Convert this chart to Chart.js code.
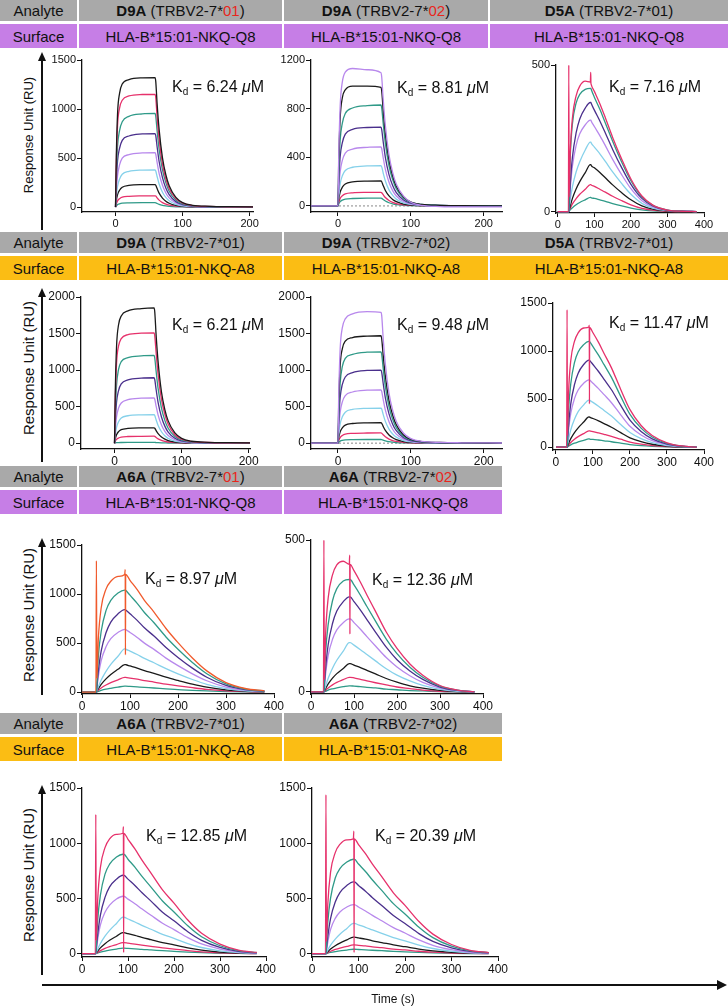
<!DOCTYPE html>
<html>
<head>
<meta charset="utf-8">
<script src="https://cdn.jsdelivr.net/npm/chart.js@4.4.1/dist/chart.umd.min.js"></script>
<style>
  body { margin: 0; background: #fff; font-family: 'Liberation Sans', Arial, sans-serif; }
  #fig { position: relative; width: 728px; height: 1008px; overflow: hidden; background: #fff; }
  .cell { position: absolute; display: flex; align-items: center; justify-content: center; font-size: 15px; color: #111; white-space: nowrap; }
  .gray { background: #a9a9a9; }
  .purple { background: #c67ee6; }
  .orange { background: #fbbd14; }
  .red { color: #e8261c; }
  .kd { position: absolute; font-size: 16px; color: #111; white-space: nowrap; transform: translateY(-50%); }
  .kd sub { font-size: 10px; vertical-align: -3px; }
  .ytitle { position: absolute; color: #111; white-space: nowrap; transform: translate(-50%, -50%) rotate(-90deg); }
  .bar { position: absolute; background: #111; }
  .head { position: absolute; width: 0; height: 0; }
  canvas { position: absolute; }
</style>
</head>
<body>
<div id="fig"></div>
<script>
// ---- tick labels / time points ----
const xTicksFast = [0, 100, 200];
const xTicksSlow = [0, 100, 200, 300, 400];
const tD9A01 = [0, 1, 3, 6, 10, 20, 40, 59, 60, 62, 65, 70, 75, 80, 90, 100, 115, 140, 170, 225];
const tD9A02 = [-37, 0, 1, 3, 6, 10, 20, 40, 59, 60, 62, 65, 70, 75, 80, 90, 100, 115, 140, 170, 225];
const tSlow = [0, 29, 30, 31, 34, 40, 50, 60, 75, 89, 90, 90.5, 91, 100, 115, 130, 150, 175, 200, 230, 260, 300, 340, 380];
const zeroLineX = [-37, 225];

// ---- colours ----
const cBlack = '#1a1a1a', cPink = '#e6316b', cTeal = '#2f9a88', cDark = '#4a2f8c';
const cLav = '#b888ec', cSky = '#86d1ea', cOrange = '#f05a2c';

// ---- row 1 : NKQ-Q8 surface ----
const yTicksR1P1 = [0, 500, 1000, 1500];
const r1p1 = [
  [0, 460, 950, 1160, 1255, 1300, 1318, 1320, 1280, 1056, 792, 502, 330, 218, 99, 46, 18, 8, 4, 1],
  [0, 400, 830, 1010, 1090, 1133, 1148, 1150, 1115, 920, 690, 437, 288, 190, 86, 40, 16, 7, 3, 1],
  [0, 300, 620, 780, 870, 925, 950, 955, 926, 780, 590, 380, 250, 162, 72, 33, 13, 6, 3, 1],
  [0, 225, 470, 600, 680, 725, 746, 750, 728, 615, 465, 300, 195, 128, 56, 26, 10, 4, 2, 0],
  [0, 150, 320, 430, 500, 535, 552, 555, 538, 455, 344, 222, 144, 94, 42, 19, 8, 3, 2, 0],
  [0, 95, 210, 285, 335, 365, 378, 380, 368, 312, 236, 152, 99, 65, 28, 13, 5, 2, 1, 0],
  [0, 58, 127, 172, 202, 221, 229, 230, 223, 189, 143, 92, 60, 39, 17, 8, 3, 1, 1, 0],
  [0, 29, 63, 86, 101, 110, 114, 115, 112, 94, 71, 46, 30, 20, 9, 4, 2, 1, 0, 0],
  [0, 11, 25, 34, 40, 43, 45, 45, 44, 37, 28, 18, 12, 8, 3, 2, 1, 0, 0, 0]
];
const r1p1Colors = [cBlack, cPink, cTeal, cDark, cLav, cSky, cBlack, cPink, cTeal];

const yTicksR1P2 = [0, 400, 800, 1200];
const r1p2 = [
  [0, 0, 400, 820, 1020, 1100, 1130, 1120, 1095, 1060, 880, 660, 420, 275, 180, 80, 30, 5, -5, -8, -8],
  [0, 0, 350, 720, 890, 955, 985, 985, 975, 945, 790, 595, 378, 248, 162, 72, 32, 12, 5, 2, 1],
  [0, 0, 260, 540, 680, 760, 805, 825, 830, 805, 680, 515, 330, 216, 141, 62, 29, 12, 5, 2, 1],
  [0, 0, 195, 405, 520, 590, 630, 645, 648, 628, 530, 400, 258, 168, 110, 49, 23, 9, 4, 2, 0],
  [0, 0, 130, 280, 375, 435, 467, 482, 485, 470, 398, 300, 194, 126, 82, 36, 17, 7, 3, 1, 0],
  [0, 0, 83, 182, 248, 291, 318, 329, 331, 321, 271, 205, 132, 86, 56, 25, 12, 5, 2, 1, 0],
  [0, 0, 51, 113, 154, 180, 197, 204, 205, 199, 168, 127, 82, 53, 35, 15, 7, 3, 1, 1, 0],
  [0, 0, 28, 62, 84, 99, 108, 111, 112, 109, 92, 69, 45, 29, 19, 8, 4, 2, 1, 0, 0],
  [0, 0, 16, 35, 48, 56, 61, 64, 64, 62, 52, 40, 26, 17, 11, 5, 2, 1, 0, 0, 0]
];
const r1p2Colors = [cLav, cBlack, cTeal, cDark, cLav, cSky, cBlack, cPink, cTeal];

const yTicksR1P3 = [0, 500];
const r1p3 = [
  [0, 0, 500, 50, 200, 320, 395, 428, 445, 442, 475, 440, 435, 410, 368, 320, 253, 178, 111, 53, 22, 5, 1, 0],
  [0, 0, 0, 40, 185, 300, 370, 400, 417, 420, 420, 420, 418, 390, 349, 302, 240, 168, 105, 50, 21, 5, 1, 0],
  [0, 0, 0, 22, 93, 186, 268, 316, 353, 372, 372, 372, 370, 346, 309, 268, 212, 149, 93, 45, 19, 4, 1, 0],
  [0, 0, 0, 19, 78, 156, 225, 265, 296, 312, 312, 312, 310, 290, 259, 225, 178, 125, 78, 37, 16, 4, 1, 0],
  [0, 0, 0, 10, 40, 85, 135, 170, 210, 237, 237, 237, 235, 220, 197, 171, 135, 95, 59, 28, 12, 3, 1, 0],
  [0, 0, 0, 5, 19, 45, 77, 102, 133, 160, 160, 160, 158, 149, 133, 115, 91, 64, 40, 19, 8, 2, 0, 0],
  [0, 0, 0, 3, 11, 26, 44, 59, 76, 92, 92, 92, 91, 86, 76, 66, 52, 37, 23, 11, 5, 1, 0, 0],
  [0, 0, 0, 1, 6, 13, 23, 31, 40, 48, 48, 48, 47, 45, 40, 35, 27, 19, 12, 6, 2, 1, 0, 0]
];
const slowColors = [cPink, cTeal, cDark, cLav, cSky, cBlack, cPink, cTeal];

// ---- row 2 : NKQ-A8 surface ----
const yTicksR2P1 = [0, 500, 1000, 1500, 2000];
const r2p1 = [
  [0, 650, 1320, 1620, 1740, 1810, 1840, 1850, 1795, 1480, 1110, 700, 460, 305, 140, 65, 26, 11, 6, 2],
  [0, 530, 1090, 1330, 1430, 1485, 1505, 1510, 1465, 1240, 940, 600, 395, 258, 115, 53, 21, 9, 5, 2],
  [0, 380, 790, 1010, 1115, 1170, 1195, 1200, 1165, 985, 745, 480, 312, 204, 90, 42, 17, 7, 4, 1],
  [0, 270, 560, 720, 810, 865, 890, 895, 868, 734, 555, 358, 233, 152, 67, 31, 13, 5, 3, 1],
  [0, 170, 360, 480, 550, 595, 615, 620, 601, 508, 384, 248, 161, 105, 47, 22, 9, 4, 2, 0],
  [0, 98, 215, 292, 344, 375, 388, 390, 378, 320, 242, 156, 101, 66, 29, 14, 5, 2, 1, 0],
  [0, 53, 115, 158, 185, 202, 209, 210, 204, 172, 130, 84, 55, 36, 16, 7, 3, 1, 1, 0],
  [0, 24, 52, 71, 84, 91, 94, 95, 92, 78, 59, 38, 25, 16, 7, 3, 1, 1, 0, 0],
  [0, 3, 6, 8, 9, 10, 10, 10, 10, 8, 6, 4, 3, 2, 1, 0, 0, 0, 0, 0]
];

const yTicksR2P2 = [0, 500, 1000, 1500, 2000];
const r2p2 = [
  [0, 0, 640, 1290, 1580, 1700, 1770, 1800, 1790, 1745, 1440, 1080, 685, 450, 297, 135, 63, 25, 10, 5, 2],
  [0, 0, 515, 1060, 1295, 1395, 1445, 1465, 1470, 1426, 1205, 915, 585, 385, 252, 112, 52, 21, 9, 4, 1],
  [0, 0, 400, 820, 1050, 1160, 1215, 1245, 1250, 1213, 1025, 775, 500, 325, 212, 94, 44, 18, 7, 4, 1],
  [0, 0, 300, 625, 805, 905, 965, 995, 1000, 970, 820, 620, 400, 260, 170, 75, 35, 14, 6, 3, 1],
  [0, 0, 200, 425, 565, 650, 700, 725, 730, 708, 599, 453, 292, 190, 124, 55, 26, 10, 4, 2, 0],
  [0, 0, 120, 265, 360, 424, 462, 477, 480, 466, 394, 298, 192, 125, 82, 36, 17, 7, 3, 1, 0],
  [0, 0, 70, 154, 210, 246, 269, 278, 280, 272, 230, 174, 112, 73, 48, 21, 10, 4, 2, 1, 0],
  [0, 0, 35, 77, 105, 123, 134, 139, 140, 136, 115, 87, 56, 36, 24, 10, 5, 2, 1, 0, 0],
  [0, 0, 13, 28, 38, 44, 48, 50, 50, 49, 41, 31, 20, 13, 8, 4, 2, 1, 0, 0, 0]
];

const yTicksR2P3 = [0, 500, 1000, 1500];
const r2p3 = [
  [0, 0, 1430, 120, 560, 900, 1100, 1190, 1240, 1250, 1270, 450, 1245, 1190, 1090, 975, 825, 600, 390, 225, 120, 45, 12, 0],
  [0, 0, 0, 90, 385, 660, 880, 990, 1067, 1100, 1100, 1100, 1098, 1045, 957, 858, 726, 528, 341, 198, 105, 39, 11, 0],
  [0, 0, 0, 55, 225, 450, 650, 770, 860, 905, 905, 905, 903, 860, 787, 706, 597, 434, 281, 163, 86, 32, 9, 0],
  [0, 0, 0, 42, 175, 350, 505, 595, 665, 700, 700, 700, 698, 665, 609, 546, 462, 336, 217, 126, 67, 25, 7, 0],
  [0, 0, 0, 20, 80, 180, 290, 370, 440, 490, 490, 490, 488, 466, 426, 382, 323, 235, 152, 88, 47, 17, 5, 0],
  [0, 0, 0, 9, 38, 88, 151, 201, 261, 314, 314, 314, 312, 298, 273, 245, 207, 151, 97, 57, 30, 11, 3, 0],
  [0, 0, 0, 5, 20, 48, 82, 109, 141, 170, 170, 170, 169, 162, 148, 133, 112, 82, 53, 31, 16, 6, 2, 0],
  [0, 0, 0, 3, 10, 24, 41, 54, 71, 85, 85, 85, 84, 81, 74, 66, 56, 41, 26, 15, 8, 3, 1, 0]
];

// ---- row 3 : A6A on NKQ-Q8 ----
const yTicksR3P1 = [0, 500, 1000, 1500];
const r3p1 = [
  [0, 0, 1340, 140, 540, 860, 1050, 1130, 1180, 1200, 1250, 380, 1200, 1140, 1044, 936, 816, 648, 504, 348, 216, 96, 36, 12],
  [0, 0, 0, 80, 360, 620, 830, 935, 1010, 1040, 1040, 1040, 1038, 988, 905, 811, 707, 562, 437, 302, 187, 83, 31, 10],
  [0, 0, 0, 50, 210, 420, 605, 714, 798, 840, 840, 840, 838, 798, 731, 655, 571, 454, 353, 244, 151, 67, 25, 8],
  [0, 0, 0, 38, 160, 320, 461, 544, 608, 640, 640, 640, 638, 608, 557, 499, 435, 346, 269, 186, 115, 51, 19, 6],
  [0, 0, 0, 13, 53, 123, 211, 282, 365, 440, 440, 440, 438, 418, 383, 343, 299, 238, 185, 128, 79, 35, 13, 4],
  [0, 0, 0, 8, 34, 78, 134, 179, 232, 280, 280, 280, 279, 266, 244, 218, 190, 151, 118, 81, 50, 22, 8, 3],
  [0, 0, 0, 5, 18, 42, 72, 96, 125, 150, 150, 150, 149, 143, 131, 117, 102, 81, 63, 44, 27, 12, 5, 2],
  [0, 0, 0, 2, 7, 17, 29, 38, 50, 60, 60, 60, 60, 57, 52, 47, 41, 32, 25, 17, 11, 5, 2, 1]
];
const r3p1Colors = [cOrange, cTeal, cDark, cLav, cSky, cBlack, cPink, cTeal];

const yTicksR3P2 = [0, 500];
const r3p2 = [
  [0, 0, 500, 40, 190, 310, 385, 418, 430, 420, 450, 190, 420, 399, 361, 319, 265, 197, 143, 92, 55, 21, 6, 0],
  [0, 0, 0, 30, 130, 222, 300, 340, 365, 370, 370, 370, 370, 352, 318, 281, 233, 174, 126, 81, 48, 19, 6, 0],
  [0, 0, 0, 19, 78, 156, 225, 266, 297, 313, 313, 313, 313, 297, 269, 238, 197, 147, 106, 69, 41, 16, 5, 0],
  [0, 0, 0, 14, 60, 120, 173, 204, 228, 240, 240, 240, 240, 228, 206, 182, 151, 113, 82, 53, 31, 12, 4, 0],
  [0, 0, 0, 5, 19, 45, 78, 104, 134, 162, 162, 162, 162, 154, 139, 123, 102, 76, 55, 36, 21, 8, 2, 0],
  [0, 0, 0, 3, 11, 26, 45, 60, 77, 93, 93, 93, 93, 88, 80, 71, 59, 44, 32, 20, 12, 5, 1, 0],
  [0, 0, 0, 1, 6, 13, 23, 31, 40, 48, 48, 48, 48, 46, 41, 36, 30, 23, 16, 11, 6, 2, 1, 0],
  [0, 0, 0, 1, 2, 6, 10, 13, 17, 20, 20, 20, 20, 19, 17, 15, 13, 9, 7, 4, 3, 1, 0, 0]
];

// ---- row 4 : A6A on NKQ-A8 ----
const yTicksR4 = [0, 500, 1000, 1500];
const r4p1 = [
  [0, 0, 1260, 120, 480, 780, 960, 1040, 1080, 1090, 1150, 10, 1090, 1036, 948, 850, 730, 578, 458, 305, 185, 87, 33, 11],
  [0, 0, 0, 65, 300, 530, 720, 810, 875, 900, 900, 900, 900, 855, 783, 702, 603, 477, 378, 252, 153, 72, 27, 9],
  [0, 0, 0, 40, 170, 350, 510, 605, 675, 710, 710, 710, 710, 675, 618, 554, 476, 376, 298, 199, 121, 57, 21, 7],
  [0, 0, 0, 30, 125, 260, 375, 440, 495, 520, 520, 520, 520, 494, 452, 406, 348, 276, 218, 146, 88, 42, 16, 5],
  [0, 0, 0, 10, 40, 92, 158, 211, 274, 330, 330, 330, 330, 314, 287, 257, 221, 175, 139, 92, 56, 26, 10, 3],
  [0, 0, 0, 6, 23, 53, 91, 122, 158, 190, 190, 190, 190, 181, 165, 148, 127, 101, 80, 53, 32, 15, 6, 2],
  [0, 0, 0, 3, 12, 28, 48, 64, 83, 100, 100, 100, 100, 95, 87, 78, 67, 53, 42, 28, 17, 8, 3, 1],
  [0, 0, 0, 2, 6, 14, 24, 32, 42, 50, 50, 50, 50, 48, 44, 39, 34, 27, 21, 14, 9, 4, 2, 1]
];
const r4p2 = [
  [0, 0, 1440, 110, 450, 740, 915, 990, 1030, 1040, 1110, 10, 1040, 988, 905, 811, 697, 551, 437, 291, 177, 83, 31, 10],
  [0, 0, 0, 60, 285, 505, 685, 770, 830, 855, 855, 855, 855, 812, 744, 667, 573, 453, 359, 239, 145, 68, 26, 9],
  [0, 0, 0, 36, 155, 320, 468, 553, 618, 650, 650, 650, 650, 618, 566, 507, 436, 345, 273, 182, 111, 52, 20, 7],
  [0, 0, 0, 25, 105, 220, 320, 378, 423, 445, 445, 445, 445, 423, 387, 347, 298, 236, 187, 125, 76, 36, 13, 4],
  [0, 0, 0, 8, 33, 77, 132, 176, 228, 275, 275, 275, 275, 261, 239, 215, 184, 146, 116, 77, 47, 22, 8, 3],
  [0, 0, 0, 5, 18, 42, 72, 96, 125, 150, 150, 150, 150, 143, 131, 117, 101, 80, 63, 42, 26, 12, 5, 2],
  [0, 0, 0, 2, 10, 22, 38, 51, 66, 80, 80, 80, 80, 76, 70, 62, 54, 42, 34, 22, 14, 6, 2, 1],
  [0, 0, 0, 1, 5, 11, 19, 26, 33, 40, 40, 40, 40, 38, 35, 31, 27, 21, 17, 11, 7, 3, 1, 0]
];

// ---- page helpers ----
const FONT = "'Liberation Sans', Arial, sans-serif";
Chart.defaults.font.family = FONT;
const fig = document.getElementById('fig');

function box(x, y, w, h, cls, html) {
  const d = document.createElement('div');
  d.className = cls;
  d.style.left = x + 'px';
  d.style.top = y + 'px';
  if (w != null) d.style.width = w + 'px';
  if (h != null) d.style.height = h + 'px';
  d.innerHTML = html;
  fig.appendChild(d);
  return d;
}

// header rows: grey "Analyte" strip and coloured "Surface" strip
function header(y, cols, analytes, surfCls, surface) {
  box(0, y, cols[0], 21, 'cell gray', 'Analyte');
  box(0, y + 24, cols[0], 24, 'cell ' + surfCls, 'Surface');
  analytes.forEach((html, i) => {
    const x0 = cols[i] + 2, x1 = cols[i + 1];
    box(x0, y, x1 - x0, 21, 'cell gray', html);
    box(x0, y + 24, x1 - x0, 24, 'cell ' + surfCls, surface);
  });
}

// vertical "Response Unit (RU)" arrow with its title
function yArrow(top, bottom, textY, size) {
  box(41, top + 7, 2, bottom - top - 7, 'bar', '');
  const h = box(38, top, null, null, 'head', '');
  h.style.borderLeft = '4px solid transparent';
  h.style.borderRight = '4px solid transparent';
  h.style.borderBottom = '9px solid #111';
  const t = box(28, textY, null, null, 'ytitle', 'Response Unit (RU)');
  t.style.fontSize = size + 'px';
}

function kd(x, y, value) {
  box(x, y, null, null, 'kd', 'K<sub>d</sub> = ' + value + ' <i>&mu;</i>M');
}

// one sensorgram panel; L,R,T,B is the plot box on the page
const YW = 40, XH = 22, PT = 8, PR = 14;
function panel(p) {
  const w = p.R - p.L + YW + PR, h = p.B - p.T + PT + XH;
  const c = document.createElement('canvas');
  c.width = w; c.height = h;
  c.style.left = (p.L - YW) + 'px';
  c.style.top = (p.T - PT) + 'px';
  c.style.width = w + 'px';
  c.style.height = h + 'px';
  fig.appendChild(c);

  const datasets = p.series.map((ys, i) => ({
    data: ys.map((y, j) => ({ x: p.t[j], y: y })),
    borderColor: p.colors[i],
    borderWidth: 1.3,
    pointRadius: 0,
    fill: false,
    cubicInterpolationMode: 'monotone'
  }));
  if (p.zero) {
    datasets.push({
      data: zeroLineX.map(x => ({ x: x, y: 0 })),
      borderColor: '#888', borderWidth: 1, borderDash: [2, 2], pointRadius: 0
    });
  }

  const axisFont = { family: FONT, size: p.fs };
  new Chart(c, {
    type: 'line',
    data: { datasets: datasets },
    options: {
      responsive: false,
      animation: false,
      devicePixelRatio: 1,
      layout: { padding: { left: 0, top: PT, right: PR, bottom: 0 } },
      plugins: { legend: { display: false }, tooltip: { enabled: false } },
      scales: {
        x: {
          type: 'linear', bounds: 'data', min: p.xMin, max: p.xMax,
          grid: { drawOnChartArea: false, drawTicks: true, tickLength: 4, tickColor: '#111' },
          border: { display: true, color: '#111', width: 1.3 },
          ticks: { color: '#111', font: axisFont, padding: 1, maxRotation: 0, autoSkip: false,
            callback: v => String(v) },
          afterBuildTicks: s => { s.ticks = p.xTicks.map(v => ({ value: v })); },
          afterFit: s => { s.height = XH; s.paddingLeft = 0; s.paddingRight = 0; s.paddingTop = 0; s.paddingBottom = 0; }
        },
        y: {
          type: 'linear', bounds: 'data', min: p.yMin, max: p.yMax,
          grid: { drawOnChartArea: false, drawTicks: true, tickLength: 5, tickColor: '#111' },
          border: { display: true, color: '#111', width: 1.3 },
          ticks: { color: '#111', font: axisFont, padding: 1, autoSkip: false,
            callback: v => String(v) },
          afterBuildTicks: s => { s.ticks = p.yTicks.map(v => ({ value: v })); },
          afterFit: s => { s.width = YW; s.paddingLeft = 0; s.paddingRight = 0; s.paddingTop = 0; s.paddingBottom = 0; }
        }
      }
    }
  });
}

// ---- headers ----
const red1 = '<span class="red">01</span>', red2 = '<span class="red">02</span>';
header(0, [77, 282, 488, 728], [
  '<b>D9A</b>&nbsp;(TRBV2-7*' + red1 + ')',
  '<b>D9A</b>&nbsp;(TRBV2-7*' + red2 + ')',
  '<b>D5A</b>&nbsp;(TRBV2-7*01)'
], 'purple', 'HLA-B*15:01-NKQ-Q8');
header(232, [77, 282, 488, 728], [
  '<b>D9A</b>&nbsp;(TRBV2-7*01)',
  '<b>D9A</b>&nbsp;(TRBV2-7*02)',
  '<b>D5A</b>&nbsp;(TRBV2-7*01)'
], 'orange', 'HLA-B*15:01-NKQ-A8');
header(466, [77, 282, 502], [
  '<b>A6A</b>&nbsp;(TRBV2-7*' + red1 + ')',
  '<b>A6A</b>&nbsp;(TRBV2-7*' + red2 + ')'
], 'purple', 'HLA-B*15:01-NKQ-Q8');
header(713, [77, 282, 502], [
  '<b>A6A</b>&nbsp;(TRBV2-7*01)',
  '<b>A6A</b>&nbsp;(TRBV2-7*02)'
], 'orange', 'HLA-B*15:01-NKQ-A8');

// ---- y titles ----
yArrow(52, 230, 135, 13);
yArrow(288, 462, 368, 15);
yArrow(538, 695, 615, 15);
yArrow(785, 975, 875, 15);

// ---- panels ----
panel({ L: 82, R: 253, T: 60, B: 212, xMin: -50, xMax: 205, yMin: -50, yMax: 1500, fs: 11,
  xTicks: xTicksFast, yTicks: yTicksR1P1, t: tD9A01, series: r1p1, colors: r1p1Colors });
panel({ L: 311, R: 502, T: 60, B: 212, xMin: -37, xMax: 225, yMin: -50, yMax: 1200, fs: 11, zero: true,
  xTicks: xTicksFast, yTicks: yTicksR1P2, t: tD9A02, series: r1p2, colors: r1p2Colors });
panel({ L: 556, R: 704, T: 65, B: 213, xMin: -5, xMax: 400, yMin: -5, yMax: 500, fs: 11,
  xTicks: xTicksSlow, yTicks: yTicksR1P3, t: tSlow, series: r1p3, colors: slowColors });

panel({ L: 81, R: 250, T: 297, B: 449, xMin: -50, xMax: 202, yMin: -80, yMax: 2000, fs: 12,
  xTicks: xTicksFast, yTicks: yTicksR2P1, t: tD9A01, series: r2p1, colors: r1p1Colors });
panel({ L: 311, R: 502, T: 297, B: 449, xMin: -37, xMax: 225, yMin: -80, yMax: 2000, fs: 12, zero: true,
  xTicks: xTicksFast, yTicks: yTicksR2P2, t: tD9A02, series: r2p2, colors: r1p2Colors });
panel({ L: 553, R: 704, T: 303, B: 450, xMin: -8, xMax: 400, yMin: -30, yMax: 1500, fs: 12,
  xTicks: xTicksSlow, yTicks: yTicksR2P3, t: tSlow, series: r2p3, colors: slowColors });

panel({ L: 82, R: 274, T: 545, B: 694, xMin: 0, xMax: 400, yMin: -20, yMax: 1500, fs: 12,
  xTicks: xTicksSlow, yTicks: yTicksR3P1, t: tSlow, series: r3p1, colors: r3p1Colors });
panel({ L: 311, R: 483, T: 540, B: 694, xMin: 0, xMax: 400, yMin: -7, yMax: 500, fs: 12,
  xTicks: xTicksSlow, yTicks: yTicksR3P2, t: tSlow, series: r3p2, colors: slowColors });

panel({ L: 82, R: 266, T: 788, B: 957, xMin: 0, xMax: 400, yMin: -30, yMax: 1500, fs: 12,
  xTicks: xTicksSlow, yTicks: yTicksR4, t: tSlow, series: r4p1, colors: slowColors });
panel({ L: 312, R: 498, T: 788, B: 957, xMin: 0, xMax: 400, yMin: -30, yMax: 1500, fs: 12,
  xTicks: xTicksSlow, yTicks: yTicksR4, t: tSlow, series: r4p2, colors: slowColors });

// ---- Kd labels ----
kd(172, 87, '6.24');
kd(397, 88, '8.81');
kd(609, 87, '7.16');
kd(172, 325, '6.21');
kd(397, 325, '9.48');
kd(609, 323, '11.47');
kd(145, 579, '8.97');
kd(372, 580, '12.36');
kd(146, 836, '12.85');
kd(375, 836, '20.39');

// ---- time arrow ----
box(42, 984, 676, 2, 'bar', '');
const th = box(717, 980, null, null, 'head', '');
th.style.borderTop = '5px solid transparent';
th.style.borderBottom = '5px solid transparent';
th.style.borderLeft = '10px solid #111';
const tt = box(393, 999, null, null, 'kd', 'Time (s)');
tt.style.fontSize = '12px';
tt.style.transform = 'translate(-50%, -50%)';
</script>
</body>
</html>
